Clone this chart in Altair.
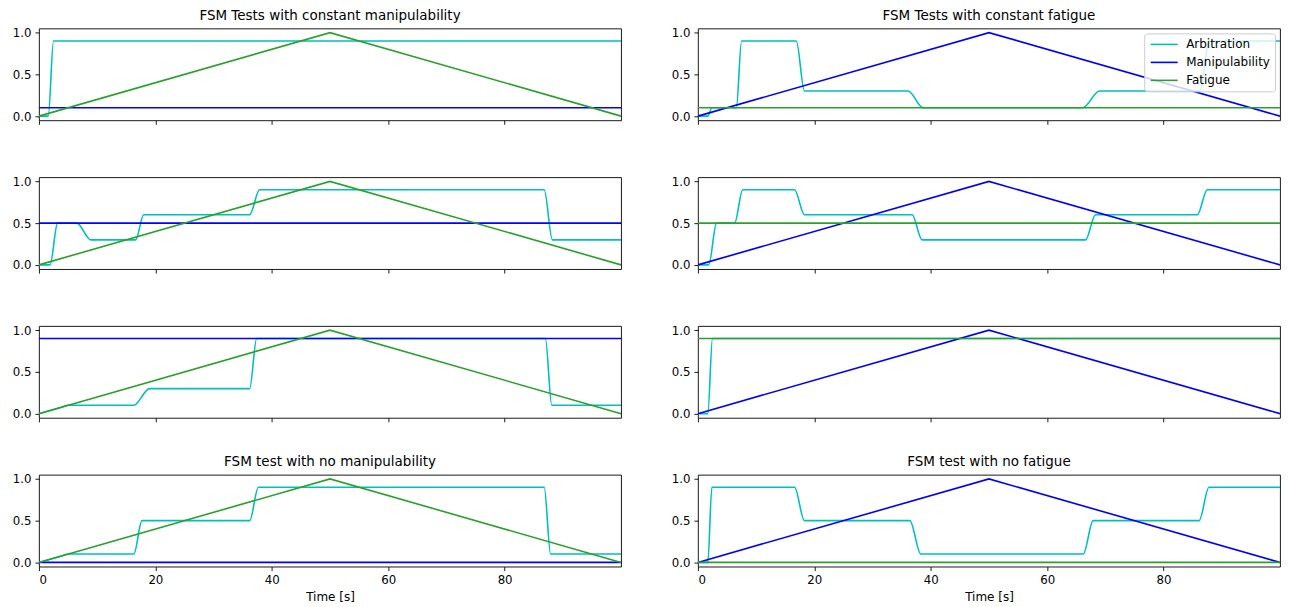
import altair as alt
import pandas as pd

FONT = "DejaVu Sans"
SERIES = ["Arbitration", "Manipulability", "Fatigue"]
COLORS = ["#00bfbf", "#0000ff", "#2ca02c"]

X_TICKS = [0, 20, 40, 60, 80]
Y_TICKS = [0.0, 0.5, 1.0]

# triangular profile (0 -> 1 at 50 s -> 0)
RAMP_T = [0, 50, 100]
RAMP_V = [0.0, 1.0, 0.0]
FLAT_T = [0, 100]

# left column: manipulability is constant, fatigue ramps
MANIP_LEFT = [0.1, 0.5, 0.9, 0.0]
# right column: fatigue is constant, manipulability ramps
FATIGUE_RIGHT = [0.1, 0.5, 0.9, 0.0]

TITLES_LEFT = ["FSM Tests with constant manipulability", None, None, "FSM test with no manipulability"]
TITLES_RIGHT = ["FSM Tests with constant fatigue", None, None, "FSM test with no fatigue"]

# arbitration key points (plateau ends)
ARB_LEFT_T = [
    [0, 1.6, 2.5, 100],
    [0, 1.9, 3.2, 6.5, 8.9, 16.6, 18.0, 36.2, 37.9, 86.8, 88.2, 100],
    [0, 4.0, 5.0, 16.3, 19.0, 36.2, 37.4, 87.0, 88.1, 100],
    [0, 4.0, 5.0, 16.3, 17.7, 36.2, 37.7, 86.8, 87.9, 100],
]
ARB_LEFT_V = [
    [0.0, 0.0, 0.9, 0.9],
    [0.0, 0.0, 0.5, 0.5, 0.3, 0.3, 0.6, 0.6, 0.9, 0.9, 0.3, 0.3],
    [0.0, 0.08, 0.1, 0.1, 0.3, 0.3, 0.9, 0.9, 0.1, 0.1],
    [0.0, 0.08, 0.1, 0.1, 0.5, 0.5, 0.9, 0.9, 0.1, 0.1],
]
ARB_RIGHT_T = [
    [0, 1.7, 2.4, 6.6, 7.5, 16.9, 18.3, 36.1, 38.7, 66.1, 69.0, 86.3, 87.8, 100],
    [0, 1.85, 3.2, 6.3, 7.7, 16.6, 18.3, 36.8, 38.5, 66.6, 68.3, 85.8, 87.5, 100],
    [0, 1.7, 2.5, 100],
    [0, 1.7, 2.4, 16.6, 18.3, 36.4, 38.3, 66.2, 67.9, 86.1, 87.8, 100],
]
ARB_RIGHT_V = [
    [0.0, 0.0, 0.1, 0.1, 0.9, 0.9, 0.3, 0.3, 0.1, 0.1, 0.3, 0.3, 0.9, 0.9],
    [0.0, 0.0, 0.5, 0.5, 0.9, 0.9, 0.6, 0.6, 0.3, 0.3, 0.6, 0.6, 0.9, 0.9],
    [0.0, 0.0, 0.9, 0.9],
    [0.0, 0.0, 0.9, 0.9, 0.5, 0.5, 0.1, 0.1, 0.5, 0.5, 0.9, 0.9],
]


def rows(series, ts, vs):
    return [{"t": t, "v": v, "series": series} for t, v in zip(ts, vs)]


def panel(arb_t, arb_v, manip, fatigue, title, bottom, legend):
    data = rows("Arbitration", arb_t, arb_v) + rows("Manipulability", *manip) + rows("Fatigue", *fatigue)
    df = pd.DataFrame(data)
    x = alt.X(
        "t:Q",
        scale=alt.Scale(domain=[0, 100], nice=False, zero=False),
        axis=alt.Axis(values=X_TICKS, labels=bottom, title="Time [s]" if bottom else None,
                      tickSize=4, labelPadding=4, titlePadding=5),
    )
    y = alt.Y(
        "v:Q",
        scale=alt.Scale(domain=[-0.05, 1.05], nice=False, zero=False),
        axis=alt.Axis(values=Y_TICKS, format=".1f", title=None, tickSize=4, labelPadding=4),
    )
    color = alt.Color("series:N", scale=alt.Scale(domain=SERIES, range=COLORS), legend=legend)
    layers = []
    for s in SERIES:
        interp = "monotone" if s == "Arbitration" else "linear"
        layers.append(
            alt.Chart(df)
            .transform_filter(alt.datum.series == s)
            .mark_line(interpolate=interp, strokeWidth=1.6, clip=True)
            .encode(x=x, y=y, color=color)
        )
    props = dict(width=583, height=92)
    if title:
        props["title"] = alt.TitleParams(text=title, fontSize=13.5, font=FONT, fontWeight="normal",
                                         offset=-6, baseline="alphabetic", color="black", anchor="middle")
    return alt.layer(*layers).properties(**props)


legend_r1 = alt.Legend(
    orient="top-right", offset=5, title=None,
    fillColor="rgba(255,255,255,0.8)", strokeColor="#cccccc", cornerRadius=3, padding=5,
    labelFont=FONT, labelFontSize=12, labelColor="black",
    symbolType="M-3,0H3", symbolSize=81, symbolStrokeWidth=1.6, symbolOffset=9, labelOffset=16,
    rowPadding=6,
)

panels = []
for i in range(4):
    bottom = i == 3
    left = panel(ARB_LEFT_T[i], ARB_LEFT_V[i], (FLAT_T, [MANIP_LEFT[i]] * 2), (RAMP_T, RAMP_V),
                 TITLES_LEFT[i], bottom, None)
    right = panel(ARB_RIGHT_T[i], ARB_RIGHT_V[i], (RAMP_T, RAMP_V), (FLAT_T, [FATIGUE_RIGHT[i]] * 2),
                  TITLES_RIGHT[i], bottom, legend_r1 if i == 0 else None)
    panels += [left, right]

chart = (
    alt.concat(*panels, columns=2, spacing={"row": 57, "column": 77}, bounds="flush")
    .resolve_scale(color="independent")
    .properties(padding={"left": 3, "top": 0, "right": 0, "bottom": 0})
    .configure_view(stroke="black", strokeWidth=0.9)
    .configure_axis(
        labelFont=FONT, labelFontSize=11.8, labelColor="black",
        titleFont=FONT, titleFontSize=12, titleFontWeight="normal", titleColor="black",
        tickColor="black", tickWidth=0.9, domain=False, grid=False,
    )
)

chart.save("out.html", embed_options={"renderer": "svg", "actions": False})
